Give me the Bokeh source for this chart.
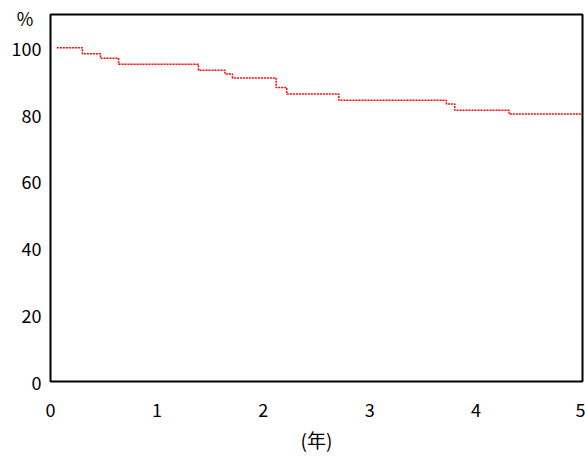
from bokeh.plotting import figure
from bokeh.models import Range1d, FixedTicker, Title
from bokeh.embed import file_html
from bokeh.resources import INLINE

# Kaplan-Meier style survival data (years, percent)
years = [0.06, 0.30, 0.47, 0.64, 1.39, 1.64, 1.71, 2.12, 2.22, 2.71, 3.72, 3.80, 4.31, 5.0]
survival = [100, 98.2, 96.9, 95.1, 93.3, 92.2, 91.0, 88.1, 86.2, 84.3, 83.2, 81.3, 80.2, 80.2]
x_ticks = [0, 1, 2, 3, 4, 5]
y_ticks = [0, 20, 40, 60, 80, 100]
unit_tick = 109  # where the "%" unit label sits on the y axis

FONT = "Noto Sans CJK JP"

p = figure(width=585, height=464, output_backend="svg", toolbar_location=None,
           x_range=Range1d(0, 5), y_range=Range1d(0, 110),
           min_border_left=50, min_border_right=3, min_border_top=14, min_border_bottom=83)

p.step(years, survival, mode="after", line_color="#ff0000", line_width=1.5, line_dash="2 1")

p.grid.visible = False
p.outline_line_color = "black"
p.outline_line_width = 2
p.outline_line_alpha = 1

for ax in (p.xaxis[0], p.yaxis[0]):
    ax.axis_line_color = None
    ax.major_tick_line_color = None
    ax.minor_tick_line_color = None
    ax.major_label_text_font = FONT
    ax.major_label_text_font_size = "18px"
    ax.major_label_text_color = "black"

p.xaxis[0].ticker = FixedTicker(ticks=x_ticks)
p.yaxis[0].ticker = FixedTicker(ticks=y_ticks + [unit_tick])
p.yaxis[0].major_label_overrides = {unit_tick: "%\u00a0\u00a0"}
p.xaxis[0].major_label_standoff = 15
p.yaxis[0].major_label_standoff = 3

p.add_layout(Title(text="(年)", text_font=FONT, text_font_size="19px", text_font_style="normal",
                   text_color="black", align="center", offset=-19, standoff=8), "below")

open("out.html", "w").write(file_html(p, INLINE))
